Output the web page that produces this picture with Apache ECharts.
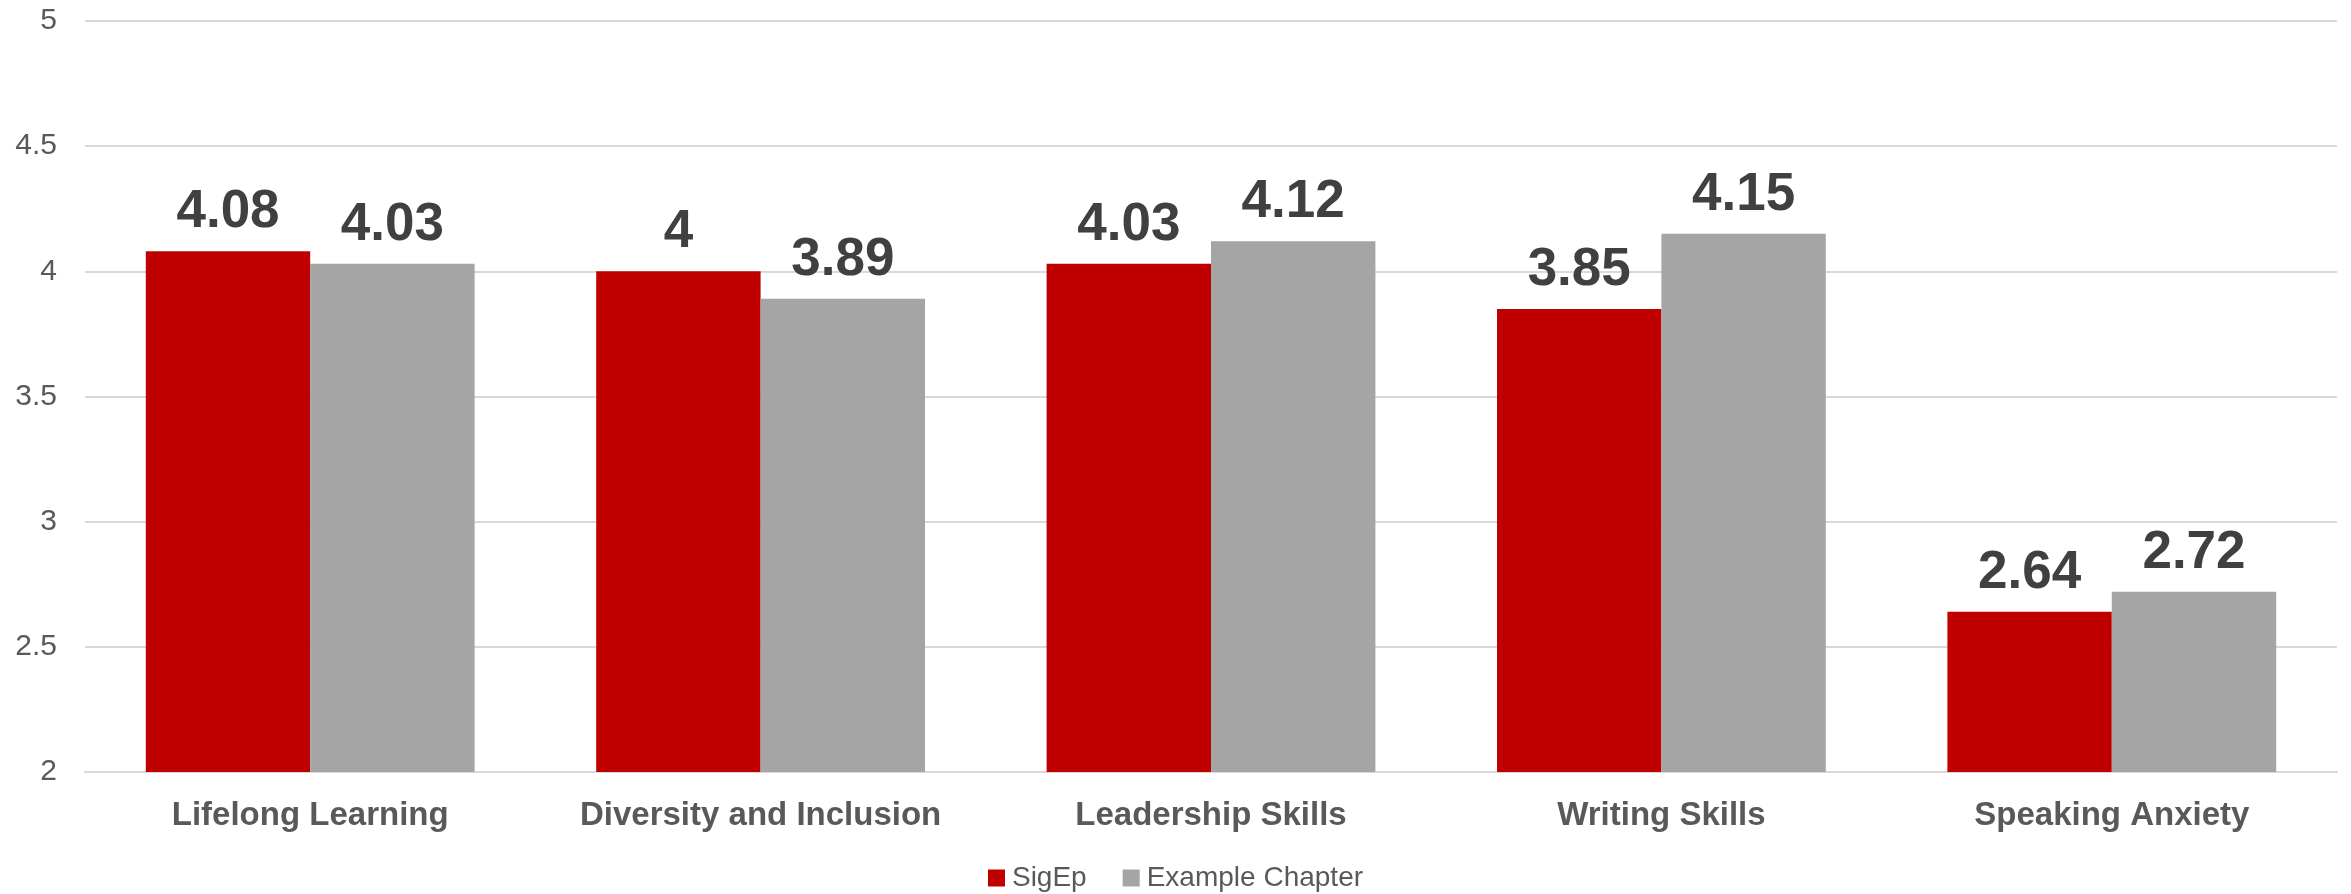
<!DOCTYPE html>
<html>
<head>
<meta charset="utf-8">
<script src="https://cdn.jsdelivr.net/npm/echarts@6/dist/echarts.min.js"></script>
<style>html,body{margin:0;padding:0;background:#fff}#c{width:2351px;height:894px}</style>
</head>
<body>
<div id="c"></div>
<script>
const categories = ['Lifelong Learning', 'Diversity and Inclusion', 'Leadership Skills', 'Writing Skills', 'Speaking Anxiety'];
const sigEp = [4.08, 4, 4.03, 3.85, 2.64];
const exampleChapter = [4.03, 3.89, 4.12, 4.15, 2.72];
const seriesNames = ['SigEp', 'Example Chapter'];

const chart = echarts.init(document.getElementById('c'), null, {renderer: 'canvas'});
const font = '"Liberation Sans", Arial, sans-serif';
const labelStyle = {
  show: true, position: 'top', distance: 12,
  fontFamily: font, fontWeight: 'bold', fontSize: 53, color: '#404040'
};
chart.setOption({
  animation: false,
  grid: {left: 85, right: 14, top: 21, bottom: 122},
  legend: {
    data: seriesNames, top: 859, left: 'center',
    itemWidth: 17, itemHeight: 17, itemGap: 36, icon: 'rect',
    textStyle: {fontFamily: font, fontSize: 28, color: '#595959', padding: [0, 0, 0, 2]}
  },
  xAxis: {
    type: 'category', data: categories,
    axisLine: {lineStyle: {color: '#d9d9d9', width: 2}},
    axisTick: {show: false},
    axisLabel: {interval: 0, fontFamily: font, fontWeight: 'bold', fontSize: 33, color: '#595959', margin: 27}
  },
  yAxis: {
    type: 'value', min: 2, max: 5, interval: 0.5,
    axisLine: {show: false}, axisTick: {show: false},
    splitLine: {lineStyle: {color: '#d9d9d9', width: 2}},
    axisLabel: {fontFamily: font, fontSize: 30, color: '#595959', margin: 28}
  },
  series: [
    {name: seriesNames[0], type: 'bar', data: sigEp, barGap: '0%', barCategoryGap: '27%',
     itemStyle: {color: '#C00000'}, label: labelStyle},
    {name: seriesNames[1], type: 'bar', data: exampleChapter, barGap: '0%', barCategoryGap: '27%',
     itemStyle: {color: '#A5A5A5'}, label: labelStyle}
  ]
});
</script>
</body>
</html>
